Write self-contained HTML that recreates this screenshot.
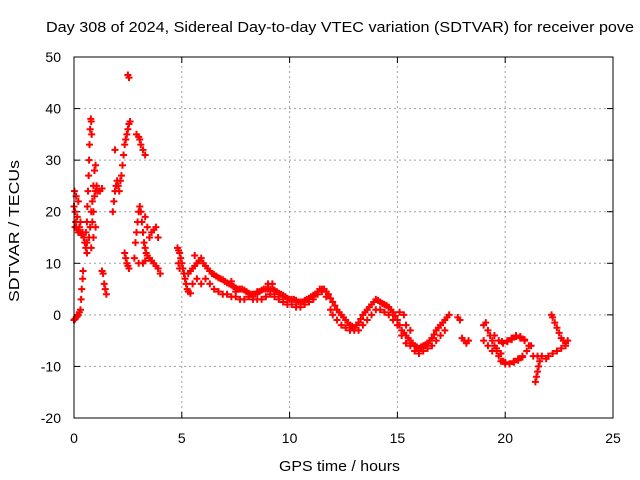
<!DOCTYPE html>
<html><head><meta charset="utf-8"><style>
body{margin:0;background:#fff;}
svg{display:block;font-family:"Liberation Sans",sans-serif;}
</style></head><body>
<svg id="chart" width="640" height="480">
<text x="46" y="32" font-size="15" textLength="588" lengthAdjust="spacingAndGlyphs">Day 308 of 2024, Sidereal Day-to-day VTEC variation (SDTVAR) for receiver pove</text>
<text x="279" y="471" font-size="15" textLength="121" lengthAdjust="spacingAndGlyphs">GPS time / hours</text>
<text transform="translate(19,302) rotate(-90)" font-size="15" textLength="142" lengthAdjust="spacingAndGlyphs">SDTVAR / TECUs</text>
<g id="grid"></g>
<g id="ticks"></g>
<g id="marks"></g>
<rect x="74" y="57" width="539" height="361" fill="none" stroke="#000" stroke-width="1"/>
</svg>
<script>
const xTicks=[0,5,10,15,20,25];
const yTicks=[-20,-10,0,10,20,30,40,50];
const gpsTime=[0,0.05,0.1,0.15,0.2,0.25,0.3,0.33,0.36,0.4,0.42,
0,0.02,0.05,0.08,0.1,0.15,0.2,0.25,0.3,0.35,0.4,0.45,0.5,0.55,0.6,0.1,0.2,0.3,0.15,0.05,
0.55,0.6,0.62,0.65,0.68,0.7,0.72,0.75,0.78,0.8,0.82,
0.6,0.7,0.75,0.8,0.85,0.9,0.95,1.0,0.85,0.9,0.95,1.0,1.05,1.1,1.2,1.3,0.9,0.8,1.0,
1.3,1.35,1.4,1.45,1.5,
1.8,1.85,1.9,1.95,2.0,2.05,2.1,2.15,2.2,2.25,2.3,2.35,2.4,2.45,2.5,2.55,2.6,1.9,2.5,2.55,
2.35,2.4,2.45,2.5,2.55,
2.9,3.0,3.05,3.1,3.2,3.3,
2.8,2.85,2.9,2.95,3.0,3.05,3.1,3.15,3.2,3.25,3.3,3.35,3.4,3.5,3.6,3.7,3.8,3.9,4.0,3.2,3.3,3.0,3.5,3.6,3.7,3.8,3.9,3.4,3.3,
4.8,4.85,4.9,4.95,5.0,5.05,5.1,5.15,5.2,5.25,5.3,5.4,4.85,4.9,
5.3,5.5,5.7,5.9,6.0,6.2,6.4,6.6,6.8,7.0,7.2,7.4,7.6,7.8,8.0,8.2,8.4,8.6,8.8,9.0,9.2,9.4,9.6,9.8,10.0,10.2,10.4,10.6,10.8,11.0,11.2,11.4,11.6,11.8,12.0,12.2,12.4,12.6,12.8,13.0,13.2,13.4,13.6,13.8,14.0,14.2,14.4,14.6,14.8,15.0,15.2,15.4,15.6,15.8,16.0,16.2,16.4,16.6,16.8,17.0,17.2,17.4,
5.4,5.6,5.8,6.1,6.3,6.5,6.7,6.9,7.1,7.3,7.5,7.7,7.9,8.1,8.3,8.5,8.7,8.9,9.1,9.3,9.5,9.7,9.9,10.1,10.3,10.5,10.7,10.9,11.1,11.3,11.5,11.7,11.9,12.1,12.3,12.5,12.7,12.9,13.1,13.3,13.5,13.7,13.9,14.1,14.3,14.5,14.7,14.9,15.1,15.3,15.5,15.7,15.9,16.1,16.3,16.5,16.7,16.9,17.1,17.3,
5.5,5.7,5.9,6.1,6.3,6.5,6.7,6.9,7.1,7.3,7.5,7.7,7.9,8.1,8.3,8.5,8.7,8.9,9.1,9.3,9.5,9.7,9.9,10.1,10.3,10.5,10.7,12.0,12.2,12.4,12.6,12.8,13.0,13.2,13.4,13.6,13.8,14.0,14.2,14.4,14.6,14.8,15.0,15.2,15.4,15.6,15.8,16.0,16.2,16.4,16.6,16.8,17.0,17.2,15.4,15.6,15.1,15.3,
10.9,11.1,11.3,11.5,11.7,11.9,
5.6,5.8,6.3,7.3,7.5,8.5,9.0,9.2,
17.8,17.9,18.0,18.1,18.2,18.3,
19.0,19.1,19.2,19.3,19.4,19.5,19.6,19.7,19.8,19.9,20.0,20.2,20.4,20.6,20.8,21.0,21.2,19.5,19.7,19.9,20.1,20.3,20.5,20.7,20.9,21.1,21.3,21.5,21.7,21.4,21.45,21.5,21.55,21.6,19.0,19.2,19.4,21.9,22.0,22.2,22.4,22.6,22.8,22.9,22.15,22.2,22.3,22.4,22.5,22.6,22.7,22.8,
19.85,20.1,20.3,20.5,20.7,20.9,19.6,19.8,20.0,20.2,20.4,20.6,20.8];
const sdtvar=[-1,-0.8,-0.5,-0.3,0,0.5,1,3,5,7,8.5,
21,24,20,18,17,16.5,16,17,16,15.5,16,15,14,13,12,23,22,18,19,17,
16,18,21,24,27,30,33,36,38,37.5,35,
14,15,17,20,22,25,28,29,18,20,23,24,25,24,24,24.5,15,13,17,
8.5,8,6,5,4,
20,22,24,25,26,25,24,26,27,29,31,33,34,35,36,37,37.5,32,46.5,46,
12,11,10,9.5,9,
35,34.5,34,33,32,31,
11,14,16,18,20,21,20,18,16,14,13,12,11.5,11,10.5,10,9.5,9,8,10,10.5,10,15,16,16.5,17,15,17,19,
13,12.5,12,11,10,9,8,7,6,5,4.5,4.2,10,9,
8,9,10,11,10,9,8,7.5,7,6.5,6,5.5,5,5,4.5,4,4,4.5,5,5,5,4.5,4,3.5,3,3,2.5,2.5,3,3.5,4,5,5,4,2.5,1,0,-1,-2,-2.5,-1.5,0,1,2,3,2.5,2,1.5,0.5,-1,-3,-4,-5,-6,-6.5,-6,-5.5,-4.5,-3,-2,-1,0,
8.5,9.5,10.5,9.5,8.5,7.8,7.2,6.8,6.2,5.8,5.2,5,4.8,4.2,4,4.2,4.8,5,5,4.8,4.2,3.8,3.2,3,2.8,2.5,2.8,3.2,3.8,4.5,5,4.5,3.2,1.8,0.5,-0.5,-1.5,-2.2,-2,-0.8,0.5,1.5,2.5,2.8,2.2,1.8,1,-0.2,-2,-3.5,-4.5,-5.5,-6.2,-6.2,-5.8,-5,-3.8,-2.5,-1.5,-0.5,
6,7,6,7,6,5,4.5,4,4,3.5,3.5,3,3,3.5,3,3,3,3.5,4,3.5,3,2.5,2,2,1.5,1.5,2,0,-1,-2,-2.5,-3,-3,-3,-2,-1,0,1,1,0.5,0,-1,-2,-4,-5.5,-6,-7,-7.5,-7,-6.5,-6,-5,-4,-3,-2,-3,0.5,0,
2.5,3,4,4.5,3.5,1,
11.5,10.5,8.5,6.5,4.5,4.5,6,6,
-0.5,-1,-4.5,-5,-5.5,-5,
-2,-1.5,-3,-4,-5,-6,-7,-8,-9,-9,-9.5,-9.5,-9,-8.5,-8,-7,-6,-4,-5,-5.5,-5,-4.5,-4,-4.5,-5,-6,-8,-8,-8,-13,-12,-11,-10,-9,-5,-6,-7,-8.5,-8,-7.5,-7,-6.5,-6,-5,0,-0.5,-1.5,-2.5,-3.5,-4.5,-5,-5.5,
-5.2,-5.2,-4.8,-4.2,-4.2,-4.8,-6.5,-7.5,-9.2,-9.5,-9.2,-8.8,-8.2];
const NS="http://www.w3.org/2000/svg";
const X0=74,X1=613,Y0=418,Y1=57;
function xs(v){return X0+(v-0)/(25-0)*(X1-X0);}
function ys(v){return Y0-(v+20)/(70)*(Y0-Y1);}
const grid=document.getElementById('grid'),ticks=document.getElementById('ticks'),marks=document.getElementById('marks');
function mk(t,a,p){const e=document.createElementNS(NS,t);for(const k in a)e.setAttribute(k,a[k]);p.appendChild(e);return e;}
xTicks.forEach(v=>{const x=xs(v);
 if(v>0&&v<25){const g=mk('line',{x1:x,x2:x,y1:Y0,y2:Y1,stroke:'#a0a0a0','stroke-dasharray':'2,3'},grid);
 
 }
 mk('line',{x1:x,x2:x,y1:Y0,y2:Y0-6,stroke:'#000'},ticks);mk('line',{x1:x,x2:x,y1:Y1,y2:Y1+6,stroke:'#000'},ticks);
 const t=mk('text',{x:x,y:443,'font-size':14,'text-anchor':'middle'},ticks);t.textContent=v;
 
 });
yTicks.forEach(v=>{const y=ys(v);
 if(v>-20&&v<50){const g=mk('line',{x1:X0,x2:X1,y1:y,y2:y,stroke:'#a0a0a0','stroke-dasharray':'2,3'},grid);
 
 }
 mk('line',{x1:X0,x2:X0+6,y1:y,y2:y,stroke:'#000'},ticks);mk('line',{x1:X1,x2:X1-6,y1:y,y2:y,stroke:'#000'},ticks);
 const t=mk('text',{x:61,y:y+5,'font-size':14,'text-anchor':'end'},ticks);t.textContent=v;
 
 });
for(let i=0;i<gpsTime.length;i++){const x=xs(gpsTime[i]),y=ys(sdtvar[i]);
 const p=mk('path',{d:`M${x-3.5},${y}H${x+3.5}M${x},${y-3.5}V${y+3.5}`,stroke:'#ff0000','stroke-width':2},marks);
 
 }
</script>
</body></html>
